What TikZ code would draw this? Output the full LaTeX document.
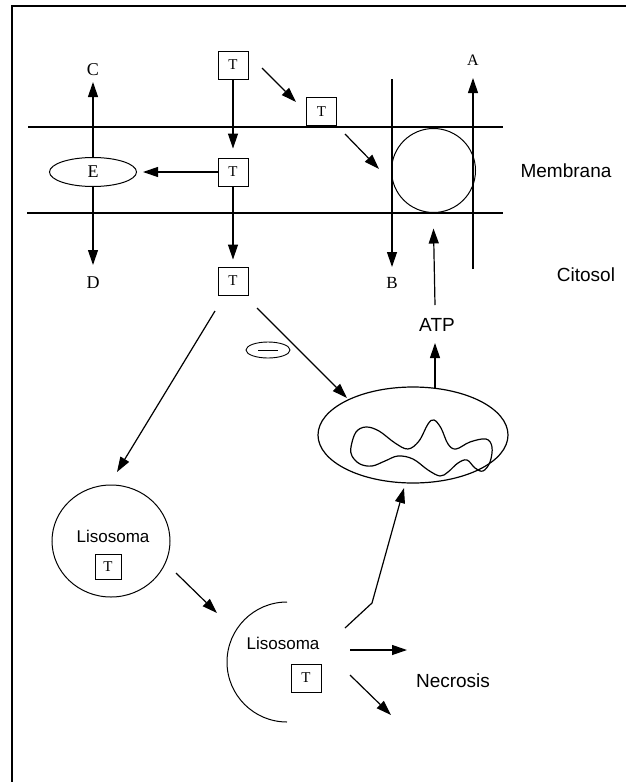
\documentclass[tikz,border=0pt]{standalone}
\usepackage{fontspec}
\setmainfont{Liberation Serif}
\newfontfamily\labelsans{Liberation Sans}
\usetikzlibrary{arrows.meta,shapes.geometric,calc}

\begin{document}
\begin{tikzpicture}[x=1pt,y=-1pt,
  tbox/.style={draw, line width=0.9pt, minimum width=30pt, minimum height=28pt, inner sep=0pt, font=\fontsize{15}{15}\selectfont},
  lbl/.style={inner sep=0pt, font=\fontsize{18}{18}\selectfont},
  word/.style={inner sep=0pt, font=\labelsans\fontsize{19}{19}\selectfont},
  lisword/.style={inner sep=0pt, font=\labelsans\fontsize{17}{17}\selectfont},
  arr/.style={-{Triangle[length=15pt,width=10pt]}, line width=1.2pt},
  wall/.style={line width=2.4pt}]
\useasboundingbox (0,0) rectangle (626,782);
\draw[line width=2pt] (12,782) -- (12,6) -- (626,6);
\draw[wall] (28,127) -- (503,127);
\draw[wall] (27,213) -- (503,213);
\node[word] (memb) at (566,171) {Membrana};
\node[word] (cito) at (586,275) {Citosol};
\node[tbox] (t0) at (233,65) {T};
\node[tbox] (t1) at (321.5,111.5) {T};
\node[tbox] (t2) at (233,172) {T};
\node[tbox] (t3) at (233,281) {T};
\node[draw, ellipse, line width=1pt, minimum width=87pt, minimum height=29pt, inner sep=0pt, font=\fontsize{18}{18}\selectfont] (e) at (93,172) {E};
\node[lbl] (labC) at (93,70) {C};
\node[lbl] (labD) at (93,283) {D};
\node[lbl, font=\fontsize{16}{16}\selectfont] (labA) at (473,60) {A};
\node[lbl, font=\fontsize{17}{17}\selectfont] (labB) at (392,283) {B};
\node[draw, circle, line width=1pt, minimum size=84pt, inner sep=0pt] (pore) at (433.5,170.5) {};
\node[word] (atp) at (437,325) {ATP};
\draw[arr] (e.north) -- ($(labC)+(0,12)$);
\draw[arr] (e.south) -- ($(labD)+(0,-18)$);
\draw[arr] (t2.west) -- ($(e.east)+(6,0)$);
\draw[arr, shorten >=9pt] (t0) -- (t2);
\draw[arr, shorten >=7pt] (t2) -- (t3);
\draw[arr] ($(t0)+(29,3)$) -- ($(t1)+(-25.5,-9.5)$);
\draw[arr] ($(t1)+(23.5,22.5)$) -- ($(pore)+(-54.5,-1.5)$);
\draw[arr] ($(labB)+(0,-204)$) -- ($(labB)+(0,-16)$);
\draw[arr] ($(labA)+(0,209)$) -- ($(labA)+(0,18)$);
\draw[arr] ($(atp)+(-2,-20)$) -- ($(pore.south)+(0,15.5)$);
\node[draw, ellipse, line width=1.2pt, minimum width=190pt, minimum height=96pt, inner sep=0pt] (mito) at (413,435) {};
\draw[line width=1.2pt] plot[smooth cycle, tension=0.6] coordinates {(351,447) (356,432) (366,427) (379,431) (395,443) (408,449) (419,441) (428,424) (434,420) (441,428) (448,444) (456,449) (470,442) (486,439) (492,447) (490,462) (483,471) (475,468) (467,460) (458,463) (448,472) (440,476) (428,470) (413,459) (398,456) (385,461) (372,466) (360,464) (352,456)};
\draw[arr] ($(mito)+(22,-47)$) -- ($(atp)+(-2,18)$);
\draw[arr] ($(t3)+(24,27)$) -- ($(mito)+(-66,-37)$);
\node[draw, ellipse, line width=0.9pt, minimum width=44pt, minimum height=16pt, inner sep=0pt] (inh) at (268,350) {};
\draw[line width=0.8pt] ($(inh)+(-10,0)$) -- ($(inh)+(10,0)$);
\node[draw, ellipse, line width=1pt, minimum width=118pt, minimum height=112pt, inner sep=0pt] (lis1) at (111,541) {};
\node[lisword] (lis1txt) at (113,536) {Lisosoma};
\node[tbox, minimum width=26pt, minimum height=25pt] (t4) at (108,567) {T};
\draw[arr] ($(t3)+(-18,30)$) -- ($(lis1)+(6,-69)$);
\coordinate (lis2) at (287,662);
\draw[line width=1pt] ($(lis2)+(0,-60)$) arc[start angle=270, end angle=90, radius=60];
\node[lisword] (lis2txt) at (283,643) {Lisosoma};
\node[tbox] (t5) at (306,678) {T};
\node[word] (necro) at (453,681) {Necrosis};
\draw[arr] ($(lis1)+(65,32)$) -- ($(lis2)+(-70,-49)$);
\draw[arr] ($(lis2)+(58,-34)$) -- ($(lis2)+(85,-59)$) -- ($(mito)+(-9,53)$);
\draw[arr] ($(lis2)+(63,-12)$) -- ($(lis2)+(120,-12)$);
\draw[arr] ($(lis2)+(63,13)$) -- ($(lis2)+(104,53)$);
\end{tikzpicture}
\end{document}
